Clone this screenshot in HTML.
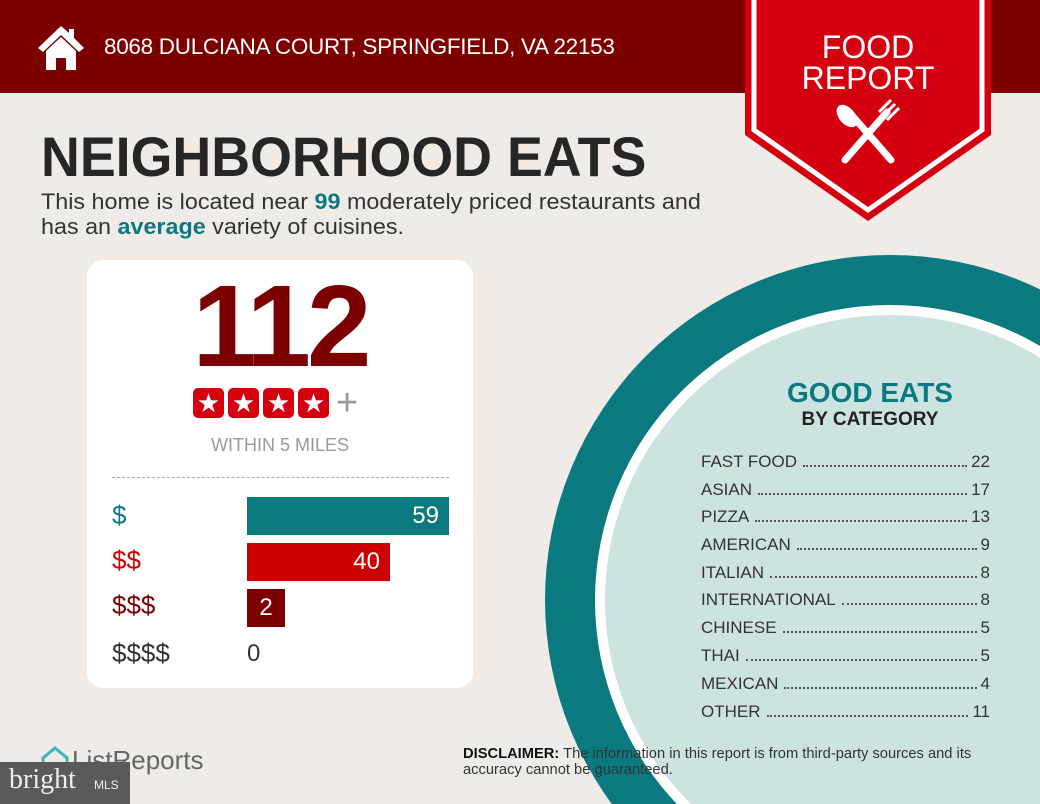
<!DOCTYPE html>
<html><head><style>
html,body{margin:0;width:1040px;height:804px;overflow:hidden}
body{background:#f0ebe7;font-family:"Liberation Sans",sans-serif}
#w{position:relative;width:1040px;height:804px;overflow:hidden}
.a{position:absolute}
.row{position:absolute;left:701px;width:289px;display:flex;font-size:17px;color:#333;height:20px;line-height:20px}
.row .d{flex:1;border-bottom:2px dotted #555;margin:0 4px 5px 6px}
.st{width:31px;height:30px;background:#d40010;border-radius:5px;color:#fff;font-size:26px;text-align:center;line-height:30px}
</style></head><body><div id="w">
<div class="a" style="left:0;top:0;width:1040px;height:93px;background:#7d0000"></div>
<svg class="a" style="left:36px;top:24px" width="50" height="47" viewBox="0 0 50 47"><path d="M25 2 L2 24 L7 28 L25 11 L43 28 L48 24 L38 14 V5 H33 V9 Z" fill="#fff"/><path d="M10 27 L25 13 L40 27 V46 H30 V34 H20 V46 H10 Z" fill="#fff"/></svg>
<div class="a" style="left:104px;top:34px;color:#fff;font-size:22.5px;letter-spacing:-0.3px">8068 DULCIANA COURT, SPRINGFIELD, VA 22153</div>
<svg class="a" style="left:0;top:0" width="1040" height="804"><circle cx="890" cy="600" r="345" fill="#0b7a80"/><circle cx="890" cy="600" r="295" fill="#fff"/><circle cx="890" cy="600" r="285" fill="#cde3e2"/></svg>
<svg class="a" style="left:745px;top:0" width="246" height="222"><polygon points="0,0 246,0 246,135 123,221 0,135" fill="#d40010"/><polyline points="9,0 9,130 123,210 237,130 237,0" fill="none" stroke="#fff" stroke-width="5"/>
<g stroke="#fff" stroke-linecap="round"><line x1="100" y1="160" x2="142" y2="112" stroke-width="7"/><line x1="146" y1="160" x2="104" y2="112" stroke-width="7"/></g>
<ellipse cx="102" cy="116" rx="8" ry="13" fill="#fff" transform="rotate(-40 102 116)"/>
<g stroke="#fff" stroke-width="3"><line x1="138" y1="116" x2="150" y2="104"/><line x1="142" y1="120" x2="154" y2="108"/><line x1="134" y1="112" x2="146" y2="100"/></g></svg>
<div class="a" style="left:745px;top:32px;width:246px;text-align:center;color:#fff;font-size:32px;line-height:31px">FOOD<br>REPORT</div>
<div class="a" style="left:41px;top:124px;font-size:56px;font-weight:bold;color:#262626;transform:scaleX(0.96);transform-origin:left">NEIGHBORHOOD EATS</div>
<div class="a" style="left:41px;top:189px;font-size:22px;line-height:25px;color:#333;transform:scaleX(1.06);transform-origin:left">This home is located near <b style="color:#0b7a80">99</b> moderately priced restaurants and<br>has an <b style="color:#0b7a80">average</b> variety of cuisines.</div>
<div class="a" style="left:87px;top:260px;width:386px;height:428px;background:#fff;border-radius:16px"></div>
<div class="a" style="left:160px;top:266px;width:240px;text-align:center;font-size:116px;font-weight:bold;color:#7d0000;letter-spacing:-4px;line-height:120px">112</div>
<div class="a" style="left:193px;top:388px;display:flex;gap:4px"><div class="st">★</div><div class="st">★</div><div class="st">★</div><div class="st">★</div></div>
<div class="a" style="left:336px;top:382px;font-size:38px;color:#999">+</div>
<div class="a" style="left:180px;top:435px;width:200px;text-align:center;font-size:18px;color:#999">WITHIN 5 MILES</div>
<div class="a" style="left:112px;top:477px;width:337px;border-top:1px dashed #aaa"></div>
<div class="a" style="left:112px;top:500px;font-size:26px;color:#0b7a80">$</div>
<div class="a" style="left:112px;top:545px;font-size:26px;color:#cc0000">$$</div>
<div class="a" style="left:112px;top:590px;font-size:26px;color:#7d0000">$$$</div>
<div class="a" style="left:112px;top:638px;font-size:26px;color:#333">$$$$</div>
<div class="a" style="left:247px;top:497px;width:202px;height:38px;background:#0b7a80;color:#fff;font-size:24px;line-height:38px;text-align:right;box-sizing:border-box;padding-right:10px">59</div>
<div class="a" style="left:247px;top:543px;width:143px;height:38px;background:#cc0000;color:#fff;font-size:24px;line-height:38px;text-align:right;box-sizing:border-box;padding-right:10px">40</div>
<div class="a" style="left:247px;top:589px;width:38px;height:38px;background:#7d0000;color:#fff;font-size:24px;line-height:38px;text-align:center">2</div>
<div class="a" style="left:247px;top:640px;font-size:24px;color:#333">0</div>
<div class="a" style="left:700px;top:377px;width:340px;text-align:center;font-size:28px;font-weight:bold;color:#0b7a80">GOOD EATS</div>
<div class="a" style="left:700px;top:409px;width:340px;text-align:center;font-size:19px;font-weight:bold;color:#222">BY CATEGORY</div>
<div class="row" style="top:452px"><span>FAST FOOD</span><span class="d"></span><span>22</span></div>
<div class="row" style="top:480px"><span>ASIAN</span><span class="d"></span><span>17</span></div>
<div class="row" style="top:507px"><span>PIZZA</span><span class="d"></span><span>13</span></div>
<div class="row" style="top:535px"><span>AMERICAN</span><span class="d"></span><span>9</span></div>
<div class="row" style="top:563px"><span>ITALIAN</span><span class="d"></span><span>8</span></div>
<div class="row" style="top:590px"><span>INTERNATIONAL</span><span class="d"></span><span>8</span></div>
<div class="row" style="top:618px"><span>CHINESE</span><span class="d"></span><span>5</span></div>
<div class="row" style="top:646px"><span>THAI</span><span class="d"></span><span>5</span></div>
<div class="row" style="top:674px"><span>MEXICAN</span><span class="d"></span><span>4</span></div>
<div class="row" style="top:702px"><span>OTHER</span><span class="d"></span><span>11</span></div>
<div class="a" style="left:463px;top:746px;font-size:14.7px;line-height:16px;color:#333"><b style="color:#111">DISCLAIMER:</b> The information in this report is from third-party sources and its<br>accuracy cannot be guaranteed.</div>
<svg class="a" style="left:40px;top:745px" width="30" height="26"><path d="M3 13 L15 3 L27 13 V24 H3 Z" fill="none" stroke="#3fb6b6" stroke-width="3"/></svg>
<div class="a" style="left:72px;top:745px;font-size:26px;color:#666">ListReports</div>
<div class="a" style="left:0;top:762px;width:130px;height:42px;background:#5a5a5a"></div>
<div class="a" style="left:9px;top:764px;font-size:28px;color:#eee;font-family:'Liberation Serif',serif">bright</div>
<div class="a" style="left:94px;top:778px;font-size:12px;color:#eee">MLS</div>
</div></body></html>
